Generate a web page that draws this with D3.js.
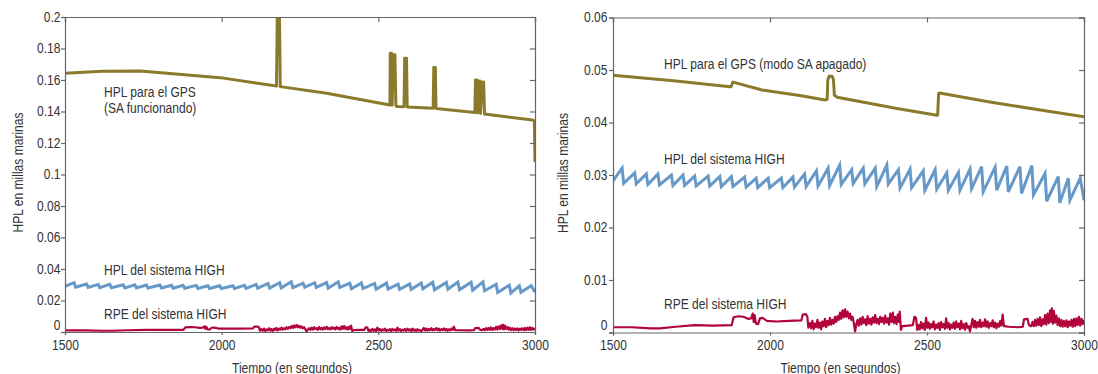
<!DOCTYPE html>
<html><head><meta charset="utf-8">
<script src="https://cdn.jsdelivr.net/npm/d3@7"></script>
<style>
body{margin:0;background:#fff}
text{font-family:"Liberation Sans",Arial,sans-serif;fill:#333;font-size:14px}
</style>
</head><body>
<svg id="c" width="1098" height="374"></svg>
<script>
// ---- data ----
const timeTicks = [1500, 2000, 2500, 3000];
const timeLabels = ["1500", "2000", "2500", "3000"];
const leftYTicks = [0, 0.02, 0.04, 0.06, 0.08, 0.1, 0.12, 0.14, 0.16, 0.18, 0.2];
const leftYLabels = ["0", "0.02", "0.04", "0.06", "0.08", "0.1", "0.12", "0.14", "0.16", "0.18", "0.2"];
const rightYTicks = [0, 0.01, 0.02, 0.03, 0.04, 0.05, 0.06];
const rightYLabels = ["0", "0.01", "0.02", "0.03", "0.04", "0.05", "0.06"];

// HPL GPS, SA on (left panel)
const gpsSAon = [[1500,0.1643],[1620,0.1655],[1740,0.1657],[1995,0.1615],[2175,0.1562],[2178,0.21],[2184,0.21],[2187,0.1558],
 [2335,0.1516],[2537,0.1441],[2538,0.177],[2542,0.177],[2544,0.1440],[2548,0.176],[2553,0.176],[2556,0.1436],[2560,0.1431],
 [2582,0.1430],[2584,0.1738],[2590,0.1738],[2592,0.1428],[2675,0.1421],[2677,0.168],[2682,0.168],[2684,0.1419],
 [2808,0.1393],[2810,0.160],[2814,0.160],[2816,0.1391],[2820,0.1594],[2824,0.1594],[2826,0.1388],[2832,0.1588],[2836,0.1588],[2839,0.1383],
 [2845,0.1382],[2992,0.1346],[2998,0.1340],[3000,0.108]];

// HPL GPS, SA off (right panel)
const gpsSAoff = [[1500,0.0490],[1700,0.0479],[1873,0.0468],[1876,0.0468],[1882,0.0477],[1975,0.0462],[2100,0.0451],[2175,0.0443],
 [2182,0.0444],[2184,0.0480],[2188,0.0488],[2198,0.0488],[2202,0.0482],[2205,0.0452],[2214,0.0448],[2400,0.0427],
 [2531,0.0414],[2534,0.0414],[2537,0.0455],[2540,0.0456],[2700,0.0439],[2881,0.0422],[3000,0.0411]];

// HPL HIGH system
const hplHigh = [[1500,0.0289],[1529,0.0313],[1534,0.0284],[1569,0.0304],[1574,0.0283],[1606,0.0302],[1611,0.0282],
 [1643,0.0302],[1648,0.0281],[1686,0.0300],[1691,0.0280],[1723,0.0300],[1728,0.0280],[1760,0.0298],[1765,0.0279],
 [1803,0.0298],[1808,0.0279],[1840,0.0297],[1845,0.0278],[1877,0.0297],[1882,0.0278],[1919,0.0296],[1924,0.0277],
 [1956,0.0294],[1961,0.0276],[1994,0.0294],[1999,0.0276],[2036,0.0294],[2041,0.0276],[2073,0.0296],[2078,0.0277],
 [2110,0.0302],[2115,0.0278],[2148,0.0308],[2153,0.0279],[2185,0.0313],[2190,0.0280],[2222,0.0319],[2227,0.0282],
 [2260,0.0310],[2265,0.0284],[2297,0.0313],[2302,0.0283],[2335,0.0313],[2340,0.0278],[2372,0.0319],[2377,0.0283],
 [2409,0.0310],[2414,0.0275],[2446,0.0311],[2451,0.0276],[2488,0.0308],[2493,0.0271],[2526,0.0310],[2531,0.0273],
 [2563,0.0304],[2568,0.0271],[2600,0.0305],[2605,0.0271],[2637,0.0311],[2642,0.0274],[2674,0.0316],[2679,0.0268],
 [2717,0.0315],[2722,0.0271],[2754,0.0317],[2759,0.0268],[2796,0.0316],[2801,0.0265],[2834,0.0318],[2839,0.0262],
 [2876,0.0303],[2881,0.0250],[2918,0.0297],[2923,0.0247],[2950,0.0294],[2955,0.0252],[2988,0.0294],[3000,0.0252]];

// RPE HIGH system
const rpeHigh = [[1500,0.0010],[1560,0.0010],[1620,0.0008],[1650,0.0008],[1700,0.0011],[1760,0.0014],[1820,0.0013],[1878,0.0014],
 [1884,0.0029],[1900,0.0031],[1915,0.0030],[1930,0.0026],[1940,0.0027],[1945,0.0036],[1948,0.0020],[1951,0.0033],[1955,0.0017],
 [1962,0.0016],[1968,0.0027],[1976,0.0028],[1990,0.0022],[2020,0.0021],[2060,0.0022],[2100,0.0023],[2104,0.0034],[2114,0.0035],
 [2119,0.0030],[2122,0.0009],
 [2127,0.0018],[2131,0.0008],[2135,0.0022],[2139,0.0006],[2143,0.0017],[2147,0.0010],[2151,0.0024],[2155,0.0009],[2159,0.0019],
 [2163,0.0006],[2167,0.0021],[2171,0.0012],[2175,0.0026],[2179,0.0010],[2183,0.0022],[2187,0.0014],[2191,0.0028],[2195,0.0015],
 [2199,0.0024],[2203,0.0017],[2207,0.0030],[2211,0.0020],[2215,0.0031],[2219,0.0024],[2223,0.0038],[2227,0.0026],[2231,0.0042],
 [2235,0.0029],[2239,0.0044],[2243,0.0030],[2247,0.0040],[2251,0.0027],[2255,0.0036],[2259,0.0024],[2263,0.0030],[2267,0.0018],
 [2271,0.0002],[2275,0.0016],[2279,0.0024],[2283,0.0013],[2287,0.0027],[2291,0.0015],[2295,0.0030],[2299,0.0018],[2303,0.0025],
 [2307,0.0014],[2311,0.0031],[2315,0.0017],[2319,0.0026],[2323,0.0015],[2327,0.0029],[2331,0.0019],[2335,0.0033],[2339,0.0018],
 [2343,0.0026],[2347,0.0016],[2351,0.0030],[2355,0.0020],[2359,0.0028],[2363,0.0017],[2367,0.0032],[2371,0.0019],[2375,0.0027],
 [2379,0.0015],[2383,0.0036],[2387,0.0020],[2391,0.0038],[2395,0.0018],[2399,0.0030],[2403,0.0016],[2407,0.0034],[2411,0.0020],
 [2413,0.0040],[2417,0.0005],[2421,0.0012],[2440,0.0013],[2455,0.0014],[2460,0.0030],[2465,0.0028],[2469,0.0005],
 [2473,0.0014],[2477,0.0006],[2481,0.0020],[2485,0.0008],[2489,0.0017],[2493,0.0005],[2497,0.0028],[2501,0.0009],[2505,0.0019],
 [2509,0.0007],[2513,0.0016],[2517,0.0010],[2521,0.0021],[2525,0.0006],[2529,0.0015],[2533,0.0009],[2537,0.0018],[2541,0.0005],
 [2545,0.0020],[2549,0.0010],[2553,0.0016],[2557,0.0007],[2561,0.0027],[2565,0.0009],[2569,0.0018],[2573,0.0006],[2577,0.0015],
 [2581,0.0009],[2585,0.0019],[2589,0.0007],[2593,0.0021],[2597,0.0010],[2601,0.0017],[2605,0.0006],[2609,0.0022],[2613,0.0008],
 [2617,0.0016],[2621,0.0005],[2625,0.0018],[2629,0.0009],[2633,0.0012],[2637,0.0002],
 [2641,0.0014],[2645,0.0026],[2649,0.0010],[2653,0.0022],[2657,0.0009],[2661,0.0020],[2665,0.0011],[2669,0.0024],[2673,0.0010],
 [2677,0.0019],[2681,0.0012],[2685,0.0025],[2689,0.0011],[2693,0.0021],[2697,0.0009],[2701,0.0018],[2705,0.0012],[2709,0.0023],
 [2713,0.0010],[2717,0.0019],[2721,0.0008],[2725,0.0017],[2729,0.0011],[2733,0.0022],[2737,0.0013],[2741,0.0034],[2745,0.0012],
 [2760,0.0011],[2790,0.0010],[2805,0.0011],[2809,0.0025],[2820,0.0026],[2825,0.0014],[2832,0.0012],
 [2836,0.0020],[2840,0.0012],[2844,0.0024],[2848,0.0013],[2852,0.0026],[2856,0.0014],[2860,0.0029],[2864,0.0012],[2868,0.0025],
 [2872,0.0016],[2876,0.0033],[2880,0.0015],[2884,0.0036],[2888,0.0018],[2892,0.0042],[2896,0.0020],[2898,0.0046],[2901,0.0017],
 [2904,0.0041],[2908,0.0019],[2912,0.0032],[2916,0.0014],[2920,0.0027],[2924,0.0012],[2928,0.0024],[2932,0.0011],[2936,0.0022],
 [2940,0.0012],[2944,0.0023],[2948,0.0010],[2952,0.0021],[2956,0.0013],[2960,0.0024],[2964,0.0011],[2968,0.0026],[2972,0.0012],
 [2976,0.0027],[2980,0.0014],[2984,0.0030],[2988,0.0013],[2992,0.0026],[2996,0.0016],[3000,0.0024]];

const leftLabels = [["HPL para el GPS", "(SA funcionando)"], ["HPL del sistema HIGH"], ["RPE del sistema HIGH"]];
const rightLabels = [["HPL para el GPS (modo SA apagado)"], ["HPL del sistema HIGH"], ["RPE del sistema HIGH"]];
const xTitle = "Tiempo (en segundos)";
const yTitle = "HPL en millas marinas";

// ---- drawing ----
const svg = d3.select("#c");
const colors = {gps: "#8a7a2c", hpl: "#6699c7", rpe: "#b1043a", frame: "#666"};
const SQUEEZE = 0.86;

function panel(o) {
  const g = svg.append("g");
  const x = d3.scaleLinear().domain([1500, 3000]).range([o.x0, o.x1]);
  const y = d3.scaleLinear().domain([0, o.ymax]).range([o.y1, o.y0]);
  const cid = "clip" + o.id;
  svg.append("clipPath").attr("id", cid).append("rect")
    .attr("x", o.x0).attr("y", o.y0).attr("width", o.x1 - o.x0).attr("height", o.y1 - o.y0 + 1);

  const line = d3.line().x(d => x(d[0])).y(d => y(d[1]));
  const lg = g.append("g").attr("clip-path", `url(#${cid})`);
  lg.append("path").datum(o.gps).attr("d", line).attr("fill", "none")
    .attr("stroke", colors.gps).attr("stroke-width", 3).attr("stroke-linejoin", "round");
  lg.append("path").datum(hplHigh).attr("d", line).attr("fill", "none")
    .attr("stroke", colors.hpl).attr("stroke-width", 3);
  lg.append("path").datum(rpeHigh).attr("d", line).attr("fill", "none")
    .attr("stroke", colors.rpe).attr("stroke-width", 2.2).attr("stroke-linejoin", "round");

  // axes
  const fmtX = (d, i) => timeLabels[i];
  const fmtY = (d, i) => o.ylabels[i];
  const ax = [
    g.append("g").attr("transform", `translate(0,${o.y1})`).call(d3.axisBottom(x).tickValues(timeTicks).tickFormat(fmtX).tickSize(3).tickPadding(5)),
    g.append("g").attr("transform", `translate(0,${o.y0})`).call(d3.axisTop(x).tickValues(timeTicks).tickFormat("").tickSize(-5)),
    g.append("g").attr("transform", `translate(${o.x0},0)`).call(d3.axisLeft(y).tickValues(o.yticks).tickFormat(fmtY).tickSize(4).tickPadding(o.ypad)),
    g.append("g").attr("transform", `translate(${o.x1},0)`).call(d3.axisRight(y).tickValues(o.yticks).tickFormat("").tickSize(-5))
  ];
  ax.forEach(a => {
    a.selectAll("path.domain").attr("stroke", colors.frame).attr("stroke-width", 1.2);
    a.selectAll(".tick line").attr("stroke", colors.frame).attr("stroke-width", 1.2);
    a.selectAll("text").attr("font-family", null).attr("font-size", null).attr("fill", "#333");
  });
  // lift the zero label
  ax[2].selectAll(".tick text").filter((d) => d === 0).attr("dy", "-0.18em");

  // axis titles
  g.append("text").attr("x", (o.x0 + o.x1) / 2 - 8).attr("y", 372.5).attr("text-anchor", "middle").text(xTitle);
  g.append("text").attr("transform", `translate(${o.ytx},${(o.y0 + o.y1) / 2 - 2}) rotate(-90)`)
    .attr("text-anchor", "middle").text(yTitle);

  // series labels
  o.labels.forEach((lines, i) => {
    lines.forEach((s, j) => g.append("text").attr("x", o.labx).attr("y", o.laby[i] + j * 16).text(s));
  });
}

panel({id: "L", x0: 65, x1: 535, y0: 17, y1: 332, ymax: 0.2, yticks: leftYTicks, ylabels: leftYLabels, ypad: 0.5,
  gps: gpsSAon, labels: leftLabels, labx: 104, laby: [96.5, 275, 319], ytx: 22.5});
panel({id: "R", x0: 613, x1: 1084, y0: 17.5, y1: 332.5, ymax: 0.06, yticks: rightYTicks, ylabels: rightYLabels, ypad: 1.5,
  gps: gpsSAoff, labels: rightLabels, labx: 664, laby: [68.5, 163.5, 308.5], ytx: 568});

// condensed look: compress every text horizontally
svg.selectAll("text").each(function() {
  const w = this.getComputedTextLength();
  if (w > 0) {
    this.setAttribute("textLength", (w * SQUEEZE).toFixed(2));
    this.setAttribute("lengthAdjust", "spacingAndGlyphs");
  }
});
</script>
</body></html>
